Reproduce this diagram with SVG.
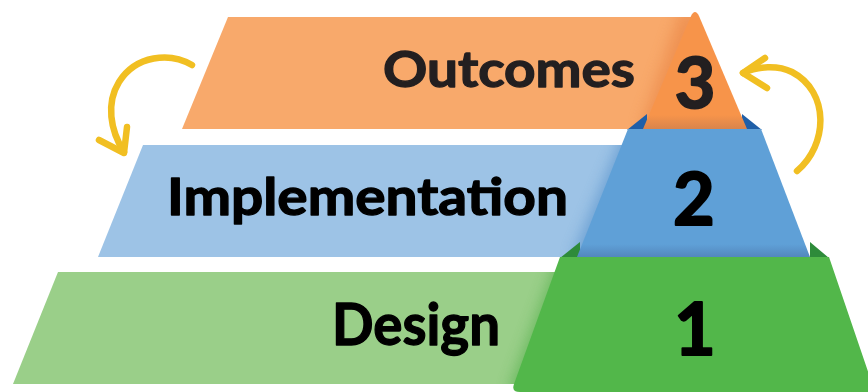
<svg xmlns="http://www.w3.org/2000/svg" width="868" height="392" viewBox="0 0 868 392">
<style>
.lbl{font-family:Lato,"Open Sans","Liberation Sans",sans-serif;font-weight:bold;fill:#000;stroke:#000;stroke-width:1.3;stroke-linejoin:round}
.num{font-family:Lato,"Open Sans","Liberation Sans",sans-serif;font-weight:bold;fill:#000;stroke:#000;stroke-width:2;stroke-linejoin:round;text-anchor:middle}
.arrow{fill:none;stroke:#F1BF22;stroke-width:6.5;stroke-linecap:round;stroke-linejoin:round}
</style>
<defs>
<filter id="soft" x="-20%" y="-20%" width="140%" height="140%"><feGaussianBlur stdDeviation="7"/></filter>
<linearGradient id="gO" x1="0" y1="0" x2="0" y2="1"><stop offset="0.88" stop-color="#F7944A"/><stop offset="1" stop-color="#D9844C"/></linearGradient>
<linearGradient id="gB" x1="0" y1="0" x2="0" y2="1"><stop offset="0.9" stop-color="#5FA0D7"/><stop offset="1" stop-color="#5387BD"/></linearGradient>
<clipPath id="cO"><polygon points="228,17 693,17 646,129 182,129"/></clipPath>
<clipPath id="cB"><polygon points="143,145 630,145 585,257 98,257"/></clipPath>
<clipPath id="cG"><polygon points="58,272 565,272 525,384 13,384"/></clipPath>
</defs>
<g id="band-outcomes">
<polygon points="228,17 693,17 646,129 182,129" fill="#F8A96B"/>
<g clip-path="url(#cO)"><polygon points="680,12 640,129 700,129 700,12" fill="#E8803F" opacity="0.55" filter="url(#soft)"/></g>
<text class="lbl" x="383" y="87" font-size="50" textLength="252" lengthAdjust="spacingAndGlyphs" style="fill:#231F20;stroke:#231F20">Outcomes</text>
</g>
<g id="band-implementation">
<polygon points="143,145 630,145 585,257 98,257" fill="#9DC3E6"/>
<g clip-path="url(#cB)"><polygon points="625,129 572,257 640,257 640,129" fill="#4A88C6" opacity="0.55" filter="url(#soft)"/></g>
<text class="lbl" x="167" y="215" font-size="51" textLength="401" lengthAdjust="spacingAndGlyphs">Implementation</text>
</g>
<g id="band-design">
<polygon points="58,272 565,272 525,384 13,384" fill="#9ACF89"/>
<g clip-path="url(#cG)"><polygon points="558,257 508,392 580,392 580,257" fill="#45A83C" opacity="0.55" filter="url(#soft)"/></g>
<text class="lbl" x="332" y="345" font-size="58" textLength="168" lengthAdjust="spacingAndGlyphs">Design</text>
</g>
<g id="tier-1">
<polygon points="560,258 580,242 580,258" fill="#2E8B3A"/>
<polygon points="810,242 829,258 810,258" fill="#2E8B3A"/>
<path d="M560,257 L829,257 L875,392 L520,392 Q511,392 514,384 Z" fill="#52B74A"/>
<text class="num" x="695" y="355" font-size="72">1</text>
</g>
<g id="tier-2">
<polygon points="627,130 647,114 647,130" fill="#1F5FA8"/>
<polygon points="742,114 762,130 742,130" fill="#1F5FA8"/>
<polygon points="628,129 761,129 810,257 577,257" fill="url(#gB)"/>
<text class="num" x="694" y="225" font-size="72">2</text>
</g>
<g id="tier-3">
<path d="M643,129 L691,16 Q695,8 699,16 L747,129 Z" fill="url(#gO)"/>
<text class="num" x="695" y="108" font-size="70" style="fill:#231F20;stroke:#231F20">3</text>
</g>
<g id="connectors">
<path class="arrow" d="M192,65 C170,52 136,55 119,82 C106,103 110,130 124,152"/>
<path class="arrow" d="M127,127 L124,153 L99,140"/>
<path class="arrow" d="M797,171 C828,145 830,92 792,72 C778,65 758,66 743,73"/>
<path class="arrow" d="M765,58 L743,73 L767,88"/>
</g>
</svg>
